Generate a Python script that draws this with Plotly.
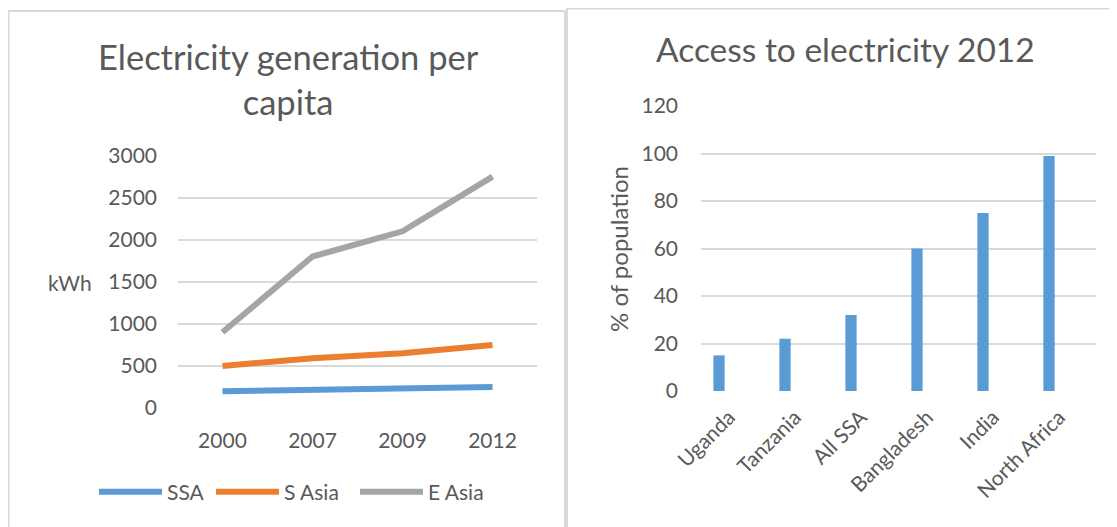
import plotly.graph_objects as go

# ---- data ----
years = ["2000", "2007", "2009", "2012"]
ssa = [200, 215, 230, 250]
s_asia = [500, 590, 650, 750]
e_asia = [900, 1800, 2100, 2750]

countries = ["Uganda", "Tanzania", "All SSA", "Bangladesh", "India", "North Africa"]
access = [15, 22, 32, 60, 75, 99]

W, H = 1117, 527
OFF = 8  # page body margin
FONT = "Lato"
TXT = "#595959"
GRID = "#D9D9D9"

def px_x(p):
    return (p - OFF) / W

def px_y(p):
    return 1 - (p - OFF) / H

fig = go.Figure()

fig.add_trace(go.Scatter(x=years, y=ssa, name="SSA", mode="lines", legend="legend",
                         line=dict(color="#5B9BD5", width=6), xaxis="x", yaxis="y"))
fig.add_trace(go.Scatter(x=years, y=s_asia, name="S Asia", mode="lines", legend="legend2",
                         line=dict(color="#ED7D31", width=6), xaxis="x", yaxis="y"))
fig.add_trace(go.Scatter(x=years, y=e_asia, name="E Asia", mode="lines", legend="legend3",
                         line=dict(color="#A5A5A5", width=6), xaxis="x", yaxis="y"))

fig.add_trace(go.Bar(x=countries, y=access, name="Access", width=0.17,
                     marker=dict(color="#5B9BD5", line=dict(width=0)),
                     showlegend=False, xaxis="x2", yaxis="y2"))

axis_common = dict(showline=False, zeroline=False, ticks="", automargin=False,
                   tickfont=dict(family=FONT, size=21, color=TXT))

def legend_at(start_px):
    return dict(orientation="h", x=(start_px - 8 - OFF) / W, y=px_y(492),
                xanchor="left", yanchor="middle",
                font=dict(family=FONT, size=21, color=TXT),
                bgcolor="rgba(0,0,0,0)", borderwidth=0, itemwidth=63,
                tracegroupgap=0)

fig.update_layout(
    template="none",
    width=W, height=H, autosize=False,
    margin=dict(l=0, r=0, t=0, b=0, pad=0, autoexpand=False),
    paper_bgcolor="white", plot_bgcolor="white",
    font=dict(family=FONT, color=TXT),
    xaxis=dict(domain=[px_x(178), px_x(537)], type="category",
               range=[-0.494, 3.494], showgrid=False, anchor="y",
               ticklabelstandoff=18, **axis_common),
    yaxis=dict(domain=[px_y(408), px_y(155.6)], range=[0, 3000], dtick=500,
               showgrid=True, gridcolor=GRID, gridwidth=1.5, anchor="x",
               ticklabelstandoff=20, **axis_common),
    xaxis2=dict(domain=[px_x(701), px_x(1096)], type="category",
                range=[-0.273, 5.712], showgrid=False, anchor="y2",
                tickangle=-45, ticklabelstandoff=9, ticklabelshift=10,
                **axis_common),
    yaxis2=dict(domain=[px_y(391), px_y(106)], range=[0, 120], dtick=20,
                showgrid=True, gridcolor=GRID, gridwidth=1.5, anchor="x2",
                ticklabelstandoff=22, **axis_common),
    showlegend=True,
    legend=legend_at(102),
    legend2=legend_at(219),
    legend3=legend_at(363),
    shapes=[
        dict(type="rect", xref="paper", yref="paper",
             x0=px_x(8.5), x1=px_x(565), y0=px_y(560), y1=px_y(11),
             line=dict(color="#D9D9D9", width=2), fillcolor="rgba(0,0,0,0)"),
        dict(type="rect", xref="paper", yref="paper",
             x0=px_x(567), x1=px_x(1160), y0=px_y(560), y1=px_y(8.5),
             line=dict(color="#D9D9D9", width=2), fillcolor="rgba(0,0,0,0)"),
    ],
    annotations=[
        dict(text="Electricity generation per<br>capita", xref="paper", yref="paper",
             x=px_x(288), y=px_y(79), xanchor="center", yanchor="middle",
             showarrow=False, font=dict(family=FONT, size=34.5, color=TXT)),
        dict(text="Access to electricity 2012", xref="paper", yref="paper",
             x=px_x(845), y=px_y(49), xanchor="center", yanchor="middle",
             showarrow=False, font=dict(family=FONT, size=33.5, color=TXT)),
        dict(text="kWh", xref="paper", yref="paper",
             x=px_x(70), y=px_y(282), xanchor="center", yanchor="middle",
             showarrow=False, font=dict(family=FONT, size=21, color=TXT)),
        dict(text="% of population", xref="paper", yref="paper", textangle=-90,
             x=px_x(619), y=px_y(249), xanchor="center", yanchor="middle",
             showarrow=False, font=dict(family=FONT, size=24, color=TXT)),
    ],
)

fig.write_html("out.html")
